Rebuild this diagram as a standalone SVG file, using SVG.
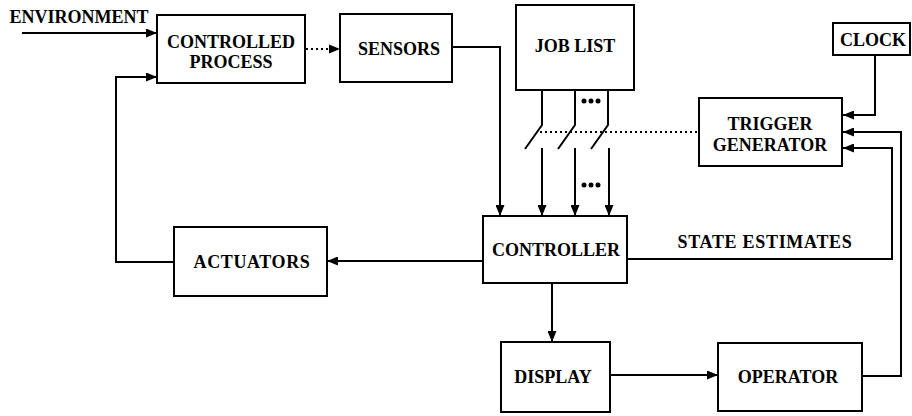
<svg xmlns="http://www.w3.org/2000/svg" width="912" height="416" viewBox="0 0 912 416">
  <style>
    .box { fill: #fff; stroke: #000; stroke-width: 2; }
    .lbl { font-family: "Liberation Serif", "Times New Roman", serif; font-weight: bold; font-size: 18px; fill: #000; text-anchor: middle; }
    .ln { fill: none; stroke: #000; stroke-width: 2; }
    .arr { fill: none; stroke: #000; stroke-width: 2; marker-end: url(#head); }
    .dot { fill: none; stroke: #000; stroke-width: 2; stroke-dasharray: 2 3; }
  </style>
  <defs>
    <marker id="head" viewBox="0 0 11 9" refX="11" refY="4.5" markerWidth="11" markerHeight="9" markerUnits="userSpaceOnUse" orient="auto">
      <path d="M0,0 L11,4.5 L0,9 Z" fill="#000"/>
    </marker>
  </defs>
  <rect width="912" height="416" fill="#fff"/>

  <!-- connectors -->
  <g id="connectors">
    <!-- environment input -->
    <path class="arr" d="M22,33 H157"/>
    <!-- process to sensors (dotted) -->
    <path class="dot" d="M306,49 H329"/>
    <path d="M329,44.5 L340,49 L329,53.5 Z" fill="#000"/>
    <!-- sensors to controller -->
    <path class="arr" d="M452,47 H500 V216"/>
    <!-- job list switches -->
    <path class="ln" d="M542,90 V125 L525,149"/>
    <path class="ln" d="M575,90 V125 L558,149"/>
    <path class="ln" d="M608,90 V125 L591,149"/>
    <path class="arr" d="M542,148 V216"/>
    <path class="arr" d="M575,148 V216"/>
    <path class="arr" d="M609,148 V216"/>
    <!-- trigger control of switches (dotted) -->
    <path class="dot" d="M540,132 H698"/>
    <!-- clock to trigger -->
    <path class="arr" d="M875,55 V115 H843"/>
    <!-- operator to trigger -->
    <path class="arr" d="M862,376 H901 V132 H843"/>
    <!-- state estimates to trigger -->
    <path class="arr" d="M627,259 H892 V148 H843"/>
    <!-- controller to actuators -->
    <path class="arr" d="M483,261 H327"/>
    <!-- actuators back to process -->
    <path class="arr" d="M174,262 H116 V77 H157"/>
    <!-- controller to display -->
    <path class="arr" d="M552,283 V342"/>
    <!-- display to operator -->
    <path class="arr" d="M610,375 H718"/>
  </g>

  <!-- ellipsis marks between switch channels -->
  <g id="ellipses" fill="#000">
    <circle cx="584" cy="101" r="2.5"/>
    <circle cx="591" cy="101" r="2.5"/>
    <circle cx="598" cy="101" r="2.5"/>
    <circle cx="584" cy="185" r="2.5"/>
    <circle cx="591" cy="185" r="2.5"/>
    <circle cx="598" cy="185" r="2.5"/>
  </g>

  <text class="lbl" x="79" y="23">ENVIRONMENT</text>
  <text class="lbl" x="765" y="248" letter-spacing="0.7">STATE ESTIMATES</text>

  <g id="controlled-process">
    <rect class="box" x="157" y="15" width="148" height="68"/>
    <text class="lbl" x="231" y="48">CONTROLLED</text>
    <text class="lbl" x="231" y="68">PROCESS</text>
  </g>
  <g id="sensors">
    <rect class="box" x="340" y="14" width="112" height="68"/>
    <text class="lbl" x="399" y="55">SENSORS</text>
  </g>
  <g id="job-list">
    <rect class="box" x="516" y="5" width="118" height="85"/>
    <text class="lbl" x="575" y="52">JOB LIST</text>
  </g>
  <g id="clock">
    <rect class="box" x="833" y="23" width="77" height="32"/>
    <text class="lbl" x="873" y="46">CLOCK</text>
  </g>
  <g id="trigger-generator">
    <rect class="box" x="699" y="98" width="143" height="68"/>
    <text class="lbl" x="770" y="130">TRIGGER</text>
    <text class="lbl" x="770" y="151">GENERATOR</text>
  </g>
  <g id="controller">
    <rect class="box" x="483" y="216" width="144" height="67"/>
    <text class="lbl" x="556" y="256">CONTROLLER</text>
  </g>
  <g id="actuators">
    <rect class="box" x="174" y="227" width="153" height="69"/>
    <text class="lbl" x="252" y="268" letter-spacing="0.6">ACTUATORS</text>
  </g>
  <g id="display">
    <rect class="box" x="501" y="342" width="109" height="70"/>
    <text class="lbl" x="553" y="383">DISPLAY</text>
  </g>
  <g id="operator">
    <rect class="box" x="718" y="343" width="144" height="68"/>
    <text class="lbl" x="788" y="383">OPERATOR</text>
  </g>
</svg>
